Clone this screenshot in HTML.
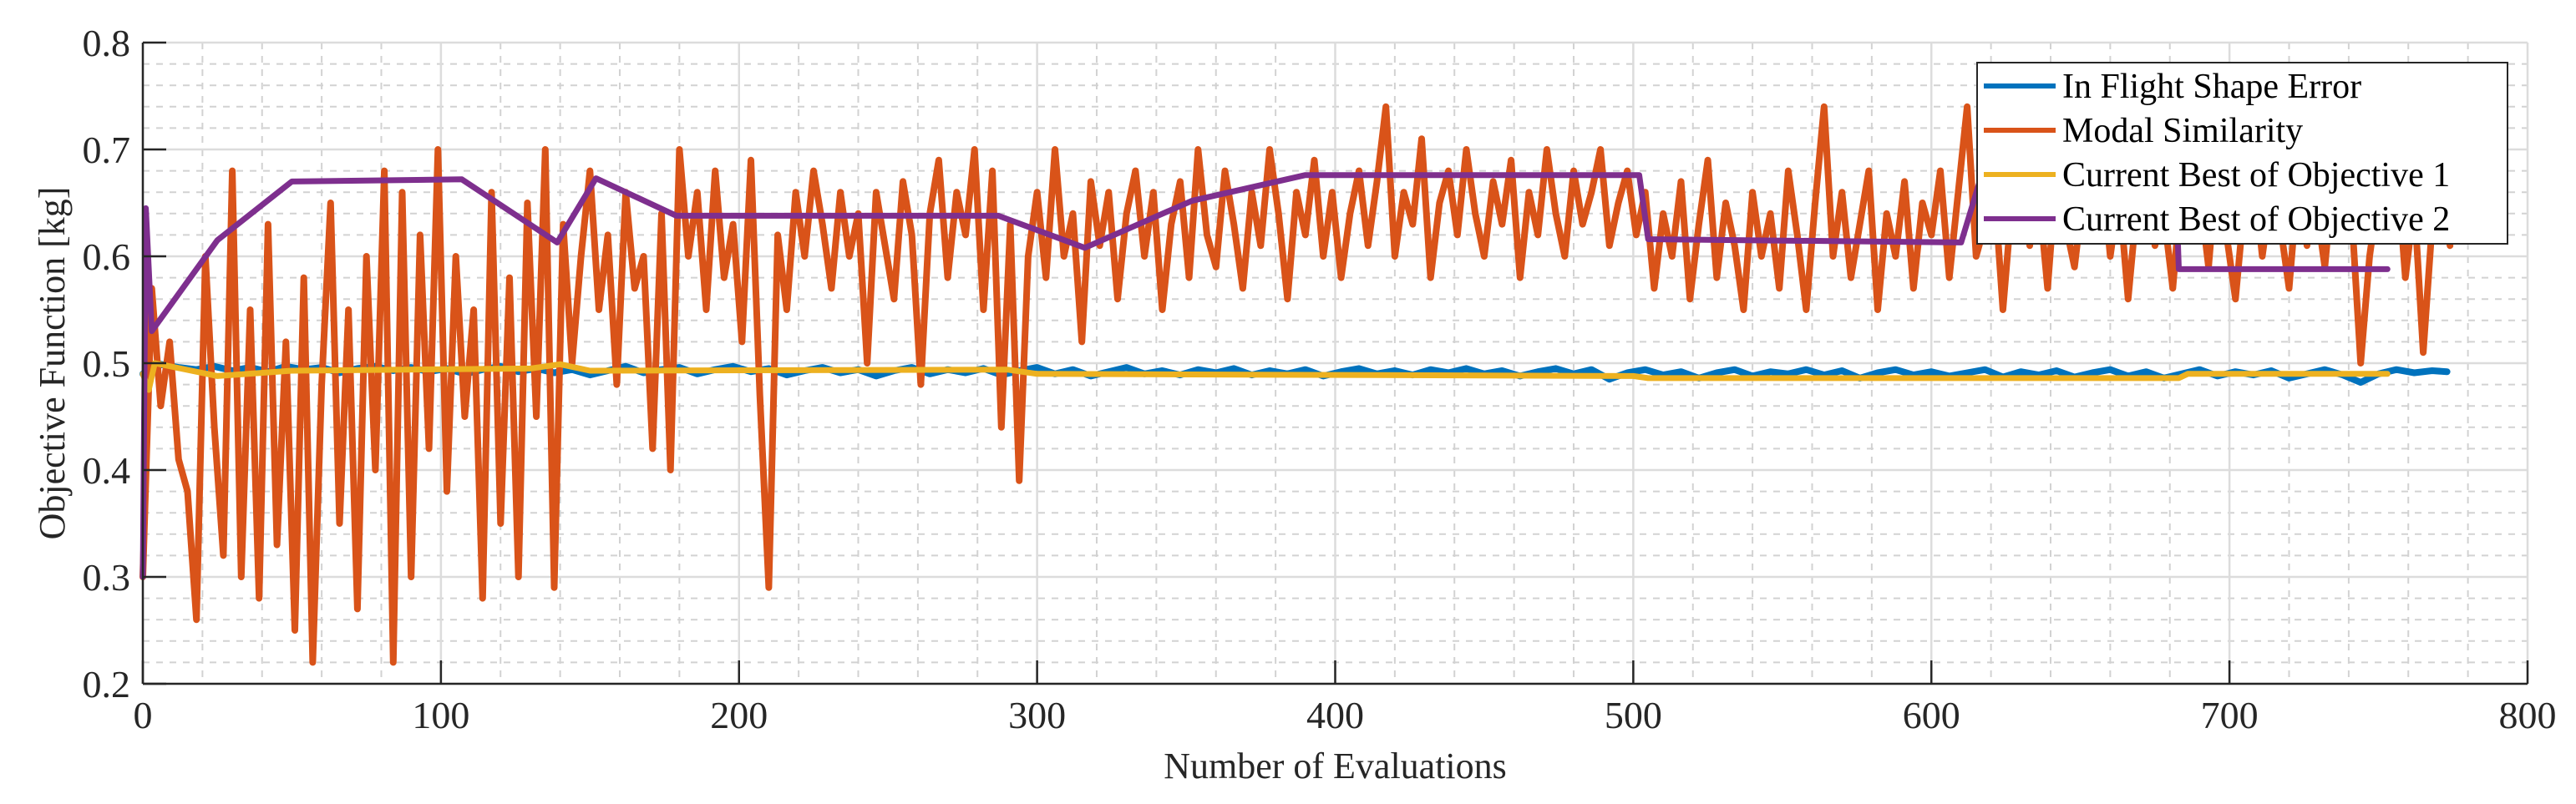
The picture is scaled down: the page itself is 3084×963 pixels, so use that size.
<!DOCTYPE html>
<html><head><meta charset="utf-8"><style>
html,body{margin:0;padding:0;background:#fff;}
svg{display:block;font-family:"Liberation Serif",serif;}
</style></head><body>
<svg id="chart" width="3084" height="963" viewBox="0 0 3084 963" xmlns="http://www.w3.org/2000/svg">
<g id="grid"></g>
<g id="series"></g>
<g id="axes"></g>
<g id="legend"></g>
</svg>
<script>
// ---- data ----
const xTicks = [0,100,200,300,400,500,600,700,800];
const yTicks = [0.2,0.3,0.4,0.5,0.6,0.7,0.8];
const yTickLabels = ["0.2","0.3","0.4","0.5","0.6","0.7","0.8"];
const xTickLabels = ["0","100","200","300","400","500","600","700","800"];
const orangeStep = 3;
const orangeValues = [
0.30,0.57,0.46,0.52,0.41,0.38,0.26,0.60,0.44,0.32,
0.68,0.30,0.55,0.28,0.63,0.33,0.52,0.25,0.58,0.22,
0.48,0.65,0.35,0.55,0.27,0.60,0.40,0.68,0.22,0.66,
0.30,0.62,0.42,0.70,0.38,0.60,0.45,0.55,0.28,0.66,
0.35,0.58,0.30,0.65,0.45,0.70,0.29,0.63,0.50,0.60,
0.68,0.55,0.62,0.48,0.66,0.57,0.60,0.42,0.64,0.40,
0.70,0.60,0.66,0.55,0.68,0.58,0.63,0.52,0.69,0.47,
0.29,0.62,0.55,0.66,0.60,0.68,0.63,0.57,0.66,0.60,
0.64,0.50,0.66,0.61,0.56,0.67,0.62,0.48,0.64,0.69,
0.58,0.66,0.62,0.70,0.55,0.68,0.44,0.63,0.39,0.60,
0.66,0.58,0.70,0.60,0.64,0.52,0.67,0.61,0.66,0.56,
0.64,0.68,0.60,0.66,0.55,0.63,0.67,0.58,0.70,0.62,
0.59,0.68,0.63,0.57,0.66,0.61,0.70,0.64,0.56,0.66,
0.62,0.69,0.60,0.66,0.58,0.64,0.68,0.61,0.67,0.74,
0.60,0.66,0.63,0.71,0.58,0.65,0.68,0.62,0.70,0.64,
0.60,0.67,0.63,0.69,0.58,0.66,0.62,0.70,0.64,0.60,
0.68,0.63,0.66,0.70,0.61,0.65,0.68,0.62,0.66,0.57,
0.64,0.60,0.67,0.56,0.63,0.69,0.58,0.65,0.61,0.55,
0.66,0.60,0.64,0.57,0.68,0.62,0.55,0.65,0.74,0.60,
0.66,0.58,0.63,0.68,0.55,0.64,0.60,0.67,0.57,0.65,
0.62,0.68,0.58,0.66,0.74,0.60,0.63,0.67,0.55,0.65,
0.70,0.61,0.66,0.57,0.68,0.63,0.59,0.66,0.62,0.69,
0.60,0.66,0.56,0.65,0.70,0.61,0.64,0.57,0.67,0.62,
0.66,0.59,0.69,0.62,0.56,0.65,0.68,0.60,0.66,0.63,
0.57,0.67,0.61,0.65,0.59,0.68,0.62,0.64,0.50,0.60,
0.66,0.62,0.69,0.58,0.65,0.51,0.63,0.66,0.61
];
const blueStep = 6;
const blueValues = [
0.490,0.499,0.496,0.494,0.497,0.493,0.496,0.492,0.497,0.494,
0.496,0.491,0.495,0.497,0.493,0.496,0.492,0.495,0.490,0.494,
0.497,0.492,0.495,0.491,0.494,0.489,0.493,0.497,0.491,0.494,
0.496,0.490,0.494,0.497,0.492,0.495,0.489,0.493,0.496,0.491,
0.494,0.488,0.493,0.496,0.490,0.494,0.491,0.495,0.489,0.493,
0.496,0.490,0.494,0.488,0.492,0.496,0.490,0.493,0.489,0.494,
0.491,0.495,0.489,0.493,0.490,0.494,0.488,0.492,0.495,0.490,
0.493,0.489,0.494,0.491,0.495,0.490,0.493,0.488,0.492,0.495,
0.490,0.494,0.485,0.491,0.494,0.489,0.492,0.486,0.491,0.494,
0.488,0.492,0.490,0.494,0.489,0.493,0.486,0.491,0.494,0.489,
0.492,0.488,0.491,0.494,0.487,0.492,0.489,0.493,0.487,0.491,
0.494,0.488,0.492,0.486,0.490,0.494,0.488,0.492,0.489,0.493,
0.486,0.490,0.494,0.489,0.482,0.490,0.494,0.491,0.493,0.492
];
const yellowX = [0,2,4,25,50,130,140,150,290,300,500,505,683,686,753];
const yellowY = [0.49,0.475,0.50,0.488,0.493,0.495,0.499,0.493,0.494,0.490,0.488,0.486,0.486,0.490,0.490];
const purpleX = [0,1,3,25,50,107,139,152,179,287,316,352,390,502,505,610,616,682,683,753];
const purpleY = [0.30,0.645,0.53,0.615,0.670,0.672,0.613,0.673,0.638,0.638,0.608,0.652,0.676,0.676,0.616,0.613,0.668,0.668,0.588,0.588];
const legendLabels = ["In Flight Shape Error","Modal Similarity","Current Best of Objective 1","Current Best of Objective 2"];
const colors = ["#0072BD","#D95319","#EDB120","#7E2F8E"];

// ---- axes ----
const L=171,R=3026,T=51,B=819;
const xMin=0,xMax=800,yMin=0.2,yMax=0.8;
function sx(v){return L+(v-xMin)/(xMax-xMin)*(R-L);}
function sy(v){return B-(v-yMin)/(yMax-yMin)*(B-T);}
const NS="http://www.w3.org/2000/svg";
function mk(tag,attrs,parent){const e=document.createElementNS(NS,tag);for(const k in attrs)e.setAttribute(k,attrs[k]);parent.appendChild(e);return e;}

const grid=document.getElementById('grid');
for(let v=0;v<=800;v+=20){
  if(v%100===0)continue;
  const gl=mk('line',{x1:sx(v),x2:sx(v),y1:T,y2:B,stroke:'#d2d2d2','stroke-width':2,'stroke-dasharray':'8,8'},grid);
  
  
}
for(let i=0;i<=30;i++){
  if(i%5===0)continue;
  const v=0.2+i*0.02;
  const gl=mk('line',{x1:L,x2:R,y1:sy(v),y2:sy(v),stroke:'#d2d2d2','stroke-width':2,'stroke-dasharray':'8,8'},grid);
  
  
}
xTicks.forEach(v=>{
  const gl=mk('line',{x1:sx(v),x2:sx(v),y1:T,y2:B,stroke:'#dcdcdc','stroke-width':2.5},grid);
  
  
});
yTicks.forEach(v=>{
  const gl=mk('line',{x1:L,x2:R,y1:sy(v),y2:sy(v),stroke:'#dcdcdc','stroke-width':2.5},grid);
  
  
});

// ---- series ----
const ser=document.getElementById('series');
function poly(xs,ys,color,w,name){
  const pts=xs.map((x,i)=>sx(x).toFixed(1)+','+sy(ys[i]).toFixed(1)).join(' ');
  const p=mk('polyline',{points:pts,fill:'none',stroke:color,'stroke-width':w,'stroke-linejoin':'round','stroke-linecap':'round'},ser);
  
  
}
poly(blueValues.map((v,i)=>Math.min(i*blueStep,773)),blueValues,colors[0],8,'in-flight-shape-error-line');
poly(orangeValues.map((v,i)=>Math.min(i*orangeStep,774)),orangeValues,colors[1],8,'modal-similarity-line');
poly(yellowX,yellowY,colors[2],7,'current-best-objective-1-line');
poly(purpleX,purpleY,colors[3],7,'current-best-objective-2-line');

// ---- axes frame, ticks, labels ----
const ax=document.getElementById('axes');
const lineL=mk('line',{x1:L,x2:L,y1:T,y2:B,stroke:'#262626','stroke-width':2.5},ax);


const lineB=mk('line',{x1:L,x2:R,y1:B,y2:B,stroke:'#262626','stroke-width':2.5},ax);


yTicks.forEach((v,i)=>{
  const tk=mk('line',{x1:L,x2:L+28,y1:sy(v),y2:sy(v),stroke:'#262626','stroke-width':2.5},ax);
  
  
  const t=mk('text',{x:156,y:sy(v)+16,'text-anchor':'end','font-size':46,fill:'#262626'},ax);
  t.textContent=yTickLabels[i];
  
  
});
xTicks.forEach((v,i)=>{
  const tk=mk('line',{x1:sx(v),x2:sx(v),y1:B,y2:B-28,stroke:'#262626','stroke-width':2.5},ax);
  
  
  const t=mk('text',{x:sx(v),y:872,'text-anchor':'middle','font-size':46,fill:'#262626'},ax);
  t.textContent=xTickLabels[i];
  
  
});
const xt=mk('text',{x:(L+R)/2,y:932,'text-anchor':'middle','font-size':44,fill:'#262626'},ax);
xt.textContent='Number of Evaluations';


const yt=mk('text',{x:0,y:0,'text-anchor':'middle','font-size':44,fill:'#262626',transform:'translate(77,'+((T+B)/2)+') rotate(-90)'},ax);
yt.textContent='Objective Function [kg]';



// ---- legend ----
const lg=document.getElementById('legend');
const box=mk('rect',{x:2367,y:75,width:635,height:217,fill:'#fff',stroke:'#262626','stroke-width':2},lg);


legendLabels.forEach((lab,i)=>{
  const cy=103+i*53;
  const ln=mk('line',{x1:2375,x2:2461,y1:cy,y2:cy,stroke:colors[i],'stroke-width':6},lg);
  
  
  const t=mk('text',{x:2469,y:cy+14,'font-size':42,fill:'#000'},lg);
  t.textContent=lab;
  
  
});
</script>
</body></html>
